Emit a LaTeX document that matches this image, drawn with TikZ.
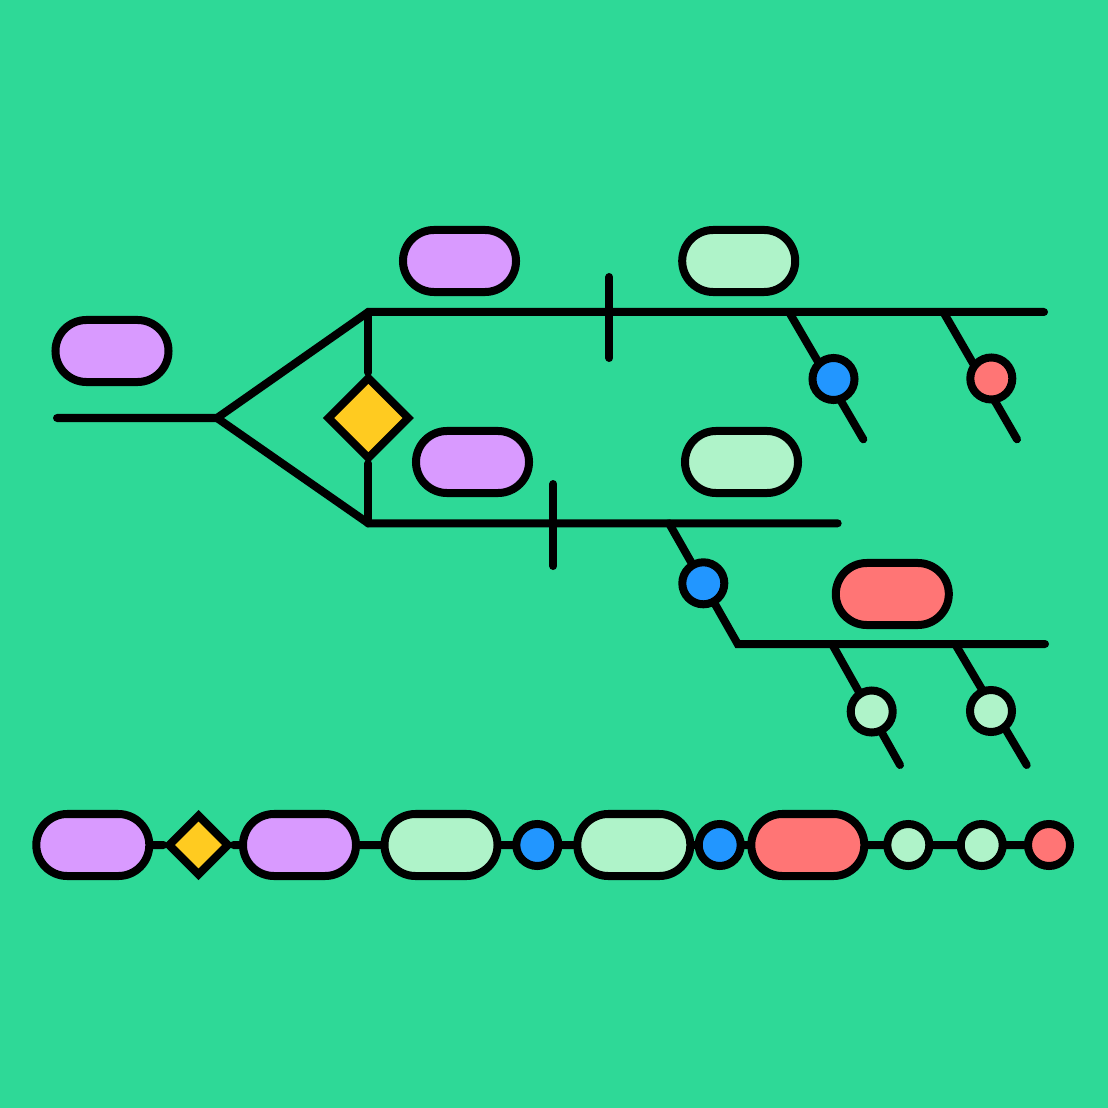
\documentclass[tikz,border=0pt]{standalone}
\usetikzlibrary{shapes.misc,shapes.geometric}
\definecolor{bgc}{RGB}{46,217,151}
\definecolor{pur}{RGB}{217,154,255}
\definecolor{lgr}{RGB}{175,243,201}
\definecolor{yel}{RGB}{255,203,32}
\definecolor{blu}{RGB}{34,150,255}
\definecolor{rdd}{RGB}{255,117,117}
\pgfdeclarelayer{back}
\pgfdeclarelayer{wires}
\pgfsetlayers{back,wires,main}
\begin{document}
\begin{tikzpicture}[x=0.025cm,y=-0.025cm,
  pill/.style={rounded rectangle, draw=black, line width=0.2cm, minimum width=2.825cm, minimum height=1.55cm, inner sep=0pt},
  dot/.style={circle, draw=black, line width=0.2cm, minimum size=1.05cm, inner sep=0pt},
  gem/.style={diamond, draw=black, line width=0.2cm, fill=yel, inner sep=0pt, aspect=1},
  wire/.style={line width=0.2cm, line cap=round, line join=miter}]
\useasboundingbox (0,0) rectangle (1108,1108);
\begin{pgfonlayer}{back}
\fill[bgc] (0,0) rectangle (1108,1108);
\end{pgfonlayer}

% upper diagram nodes
\node[pill,fill=pur] (p0) at (112,351) {};
\node[pill,fill=pur] (p1) at (459.5,261) {};
\node[pill,fill=lgr] (g1) at (738.7,261) {};
\node[pill,fill=pur] (p2) at (472.5,462) {};
\node[pill,fill=lgr] (g2) at (741.5,462) {};
\node[pill,fill=rdd] (r1) at (892.3,594) {};
\node[gem,minimum size=2.075cm] (d0) at (368.3,418) {};
\node[dot,fill=blu] (c1) at (833.5,379) {};
\node[dot,fill=rdd] (c2) at (991.3,378.5) {};
\node[dot,fill=blu] (c3) at (703.3,583.3) {};
\node[dot,fill=lgr] (c4) at (871.7,711.5) {};
\node[dot,fill=lgr] (c5) at (991,711) {};

% coordinates
\coordinate (a0) at (57,418);
\coordinate (a1) at (217,418);
\coordinate (t0) at (368.3,312);
\coordinate (t1) at (1044,312);
\coordinate (b0) at (368.3,523.3);
\coordinate (b1) at (837.7,523.3);
\coordinate (k1a) at (609.3,277);
\coordinate (k1b) at (609.3,358);
\coordinate (k2a) at (553.3,484);
\coordinate (k2b) at (553.3,566);
\coordinate (s1) at (789,312);
\coordinate (e1) at (863.3,439.3);
\coordinate (s2) at (943.3,312);
\coordinate (e2) at (1017,439.3);
\coordinate (s3) at (669,523.3);
\coordinate (m3) at (737.7,644);
\coordinate (e3) at (1045,644);
\coordinate (s4) at (832,644);
\coordinate (e4) at (900,765);
\coordinate (s5) at (955.1,644);
\coordinate (e5) at (1026.7,765);

% bottom row
\node[pill,fill=pur] (q1) at (92.8,845) {};
\node[gem,minimum size=1.55cm] (q2) at (198.5,845) {};
\node[pill,fill=pur] (q3) at (299.5,845) {};
\node[pill,fill=lgr] (q4) at (441,845) {};
\node[dot,fill=blu] (q5) at (537.3,845) {};
\node[pill,fill=lgr] (q6) at (633.8,845) {};
\node[dot,fill=blu] (q7) at (719.7,845) {};
\node[pill,fill=rdd] (q8) at (807.8,845) {};
\node[dot,fill=lgr] (q9) at (908.3,845) {};
\node[dot,fill=lgr] (q10) at (981.7,845) {};
\node[dot,fill=rdd] (q11) at (1049,845) {};

\begin{pgfonlayer}{wires}
\draw[wire] (a0) -- (a1) -- (t0) -- (t1);
\draw[wire] (a1) -- (b0) -- (b1);
\draw[wire] (t0) -- (d0) -- (b0);
\draw[wire] (k1a) -- (k1b);
\draw[wire] (k2a) -- (k2b);
\draw[wire] (s1) -- (e1);
\draw[wire] (s2) -- (e2);
\draw[wire] (s3) -- (m3) -- (e3);
\draw[wire] (s4) -- (e4);
\draw[wire] (s5) -- (e5);
\draw[wire] (q1) -- (q2) -- (q3) -- (q4) -- (q5) -- (q6) -- (q7) -- (q8) -- (q9) -- (q10) -- (q11);
\end{pgfonlayer}
\end{tikzpicture}
\end{document}
